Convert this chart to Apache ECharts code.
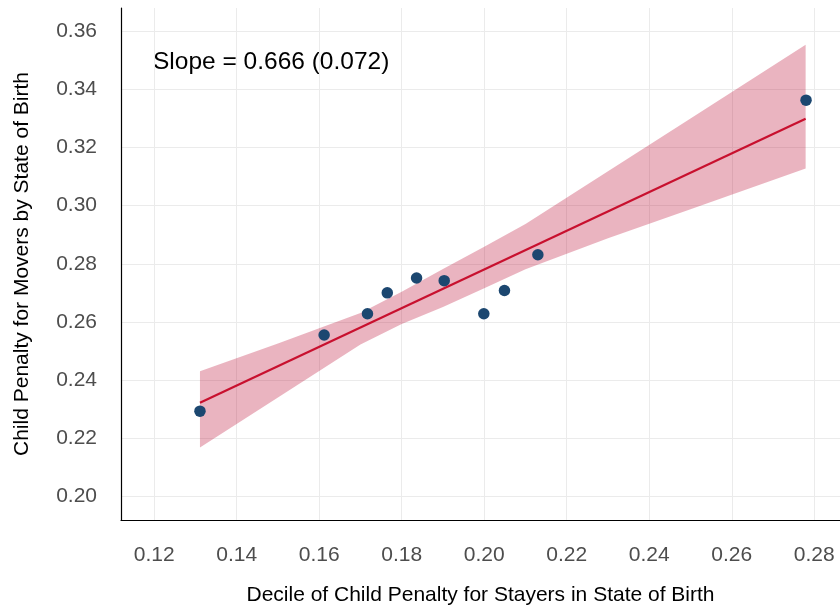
<!DOCTYPE html>
<html>
<head>
<meta charset="utf-8">
<script src="https://cdn.jsdelivr.net/npm/echarts@6/dist/echarts.min.js"></script>
<style>html,body{margin:0;padding:0;background:#fff}#c{width:840px;height:611px}</style>
</head>
<body>
<div id="c"></div>
<script>
// Scatter points (decile bins)
const pointX = [0.1311, 0.1612, 0.1717, 0.1765, 0.1836, 0.1903, 0.1999, 0.2049, 0.2130, 0.2780];
const pointY = [0.2293, 0.2555, 0.2628, 0.2700, 0.2751, 0.2742, 0.2628, 0.2708, 0.2831, 0.3363];
// Fitted line endpoints
const fitX = [0.1311, 0.2779];
const fitY = [0.2322, 0.3299];
// Confidence band
const bandX     = [0.1311, 0.15, 0.17, 0.18, 0.19, 0.20, 0.21, 0.23, 0.25, 0.2779];
const bandUpper = [0.2430, 0.2526, 0.2631, 0.2704, 0.2782, 0.2859, 0.2937, 0.3118, 0.3300, 0.3554];
const bandLower = [0.2168, 0.2340, 0.2522, 0.2593, 0.2651, 0.2716, 0.2781, 0.2888, 0.2988, 0.3128];
// Tick values
const xTicks = [0.12, 0.14, 0.16, 0.18, 0.20, 0.22, 0.24, 0.26, 0.28];
const yTicks = [0.20, 0.22, 0.24, 0.26, 0.28, 0.30, 0.32, 0.34, 0.36];
const annotation = 'Slope = 0.666 (0.072)';
const xTitle = 'Decile of Child Penalty for Stayers in State of Birth';
const yTitle = 'Child Penalty for Movers by State of Birth';

const FONT = '"Liberation Sans", Arial, sans-serif';
const chart = echarts.init(document.getElementById('c'), null, {renderer: 'canvas'});
chart.setOption({
  animation: false,
  backgroundColor: '#ffffff',
  grid: {left: 121, right: 0, top: 8, bottom: 86, containLabel: false},
  xAxis: {
    type: 'value', min: 0.11196, max: 0.28623,
    name: xTitle, nameLocation: 'middle', nameGap: 65,
    nameTextStyle: {color: '#000', fontSize: 21, fontFamily: FONT},
    axisLine: {show: true, onZero: false, lineStyle: {color: '#000', width: 1.2}},
    axisTick: {show: false, customValues: xTicks},
    axisLabel: {customValues: xTicks, color: '#4d4d4d', fontSize: 21, fontFamily: FONT, margin: 25,
      formatter: v => v.toFixed(2)},
    splitLine: {show: true, lineStyle: {color: '#ebebeb', width: 1}}
  },
  yAxis: {
    type: 'value', min: 0.19186, max: 0.368,
    name: yTitle, nameLocation: 'middle', nameGap: 88,
    nameTextStyle: {color: '#000', fontSize: 21, fontFamily: FONT},
    axisLine: {show: true, onZero: false, lineStyle: {color: '#000', width: 1.2}},
    axisTick: {show: false, customValues: yTicks},
    axisLabel: {customValues: yTicks, color: '#4d4d4d', fontSize: 21, fontFamily: FONT, margin: 24,
      formatter: v => v.toFixed(2)},
    splitLine: {show: true, lineStyle: {color: '#ebebeb', width: 1}}
  },
  graphic: [{
    type: 'text', left: 153, top: 50,
    style: {text: annotation, fill: '#000', font: '24.5px ' + FONT}
  }],
  series: [
    {
      type: 'custom', silent: true, z: 1,
      data: [0],
      renderItem: function (params, api) {
        const pts = [];
        for (let i = 0; i < bandX.length; i++) pts.push(api.coord([bandX[i], bandUpper[i]]));
        for (let i = bandX.length - 1; i >= 0; i--) pts.push(api.coord([bandX[i], bandLower[i]]));
        return {type: 'polygon', shape: {points: pts}, style: {fill: 'rgba(185,5,45,0.30)'}};
      }
    },
    {
      type: 'line', z: 2, symbol: 'none', silent: true,
      data: fitX.map((x, i) => [x, fitY[i]]),
      lineStyle: {color: '#c8102e', width: 2.2}
    },
    {
      type: 'scatter', z: 3, symbolSize: 11.5, silent: true,
      data: pointX.map((x, i) => [x, pointY[i]]),
      itemStyle: {color: '#1c4770', opacity: 1}
    }
  ]
});
</script>
</body>
</html>
